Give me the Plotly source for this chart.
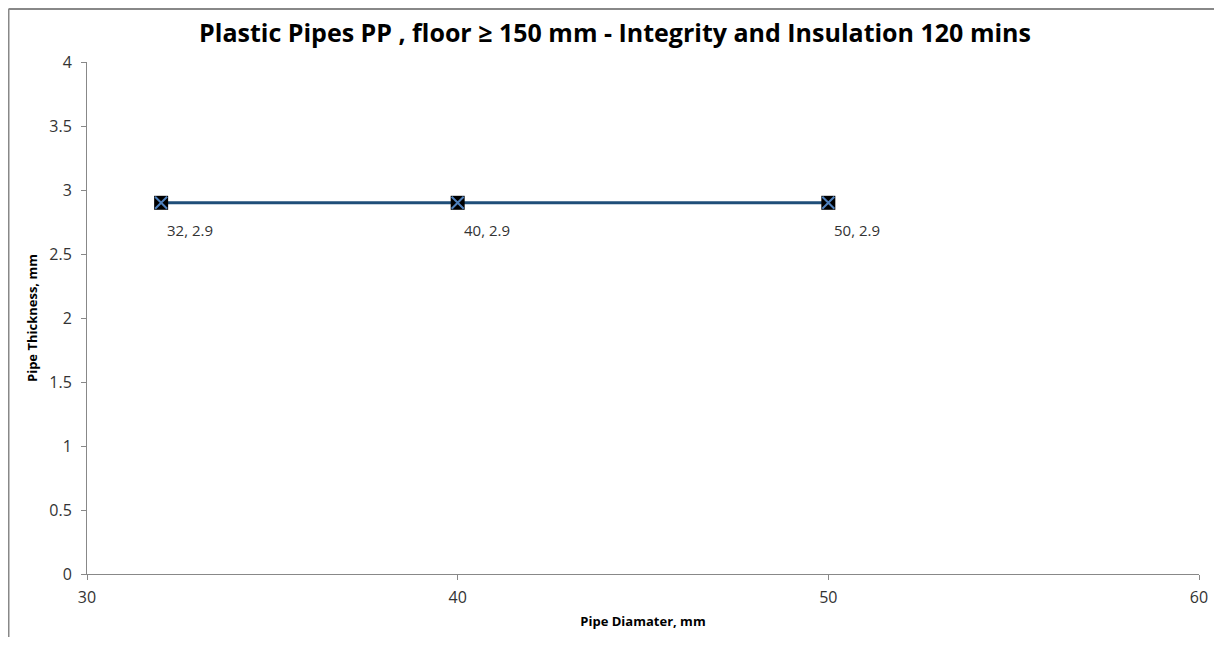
import plotly.graph_objects as go

diameters = [32, 40, 50]
thickness = [2.9, 2.9, 2.9]
labels = [f"{d}, {t}" for d, t in zip(diameters, thickness)]

title = "Plastic Pipes PP , floor \u2265 150 mm - Integrity and Insulation 120 mins"
x_title = "Pipe Diamater, mm"
y_title = "Pipe Thickness, mm"

W, H = 1214, 629
ML, MR, MT, MB = 79, 23, 54, 63
PW, PH = W - ML - MR, H - MT - MB

fig = go.Figure()
fig.add_trace(go.Scatter(
    x=diameters, y=thickness, mode="lines+markers",
    line=dict(color="#1F4E79", width=3),
    marker=dict(symbol="square", size=14, color="black",
                line=dict(color="black", width=0)),
    showlegend=False, hoverinfo="skip"))
fig.add_trace(go.Scatter(
    x=diameters, y=thickness, mode="markers",
    marker=dict(symbol="x-thin-open", size=12, color="#4F81BD",
                line=dict(color="#4F81BD", width=2)),
    showlegend=False, hoverinfo="skip"))

for d, t, lab in zip(diameters, thickness, labels):
    fig.add_annotation(x=d, y=t, text=lab, showarrow=False,
                       xanchor="left", yanchor="middle",
                       xshift=4, yshift=-27,
                       font=dict(family="Open Sans, Liberation Sans, sans-serif", size=15, color="#333"))

bx = -(ML - 0.5) / PW
by = 1 + (MT - 1) / PH
fig.update_layout(
    width=W, height=H,
    margin=dict(l=ML, r=MR, t=MT, b=MB),
    paper_bgcolor="white", plot_bgcolor="white",
    title=dict(text=title, x=0.5, xanchor="center", y=1 - 25 / H, yanchor="middle",
               font=dict(family="Open Sans, Liberation Sans, sans-serif", size=25, color="black", weight="bold")),
    font=dict(family="Open Sans, Liberation Sans, sans-serif", size=13, color="#333"),
    shapes=[
        dict(type="line", xref="paper", yref="paper", x0=bx, x1=bx, y0=-0.3, y1=by,
             line=dict(color="#888", width=2)),
        dict(type="line", xref="paper", yref="paper", x0=bx, x1=1.3, y0=by, y1=by,
             line=dict(color="#888", width=2)),
    ],
)
fig.update_xaxes(range=[30, 60], dtick=10, showgrid=False, zeroline=False,
                 showline=True, linecolor="#888", linewidth=1,
                 ticks="outside", ticklen=5, tickcolor="#888",
                 ticklabelstandoff=4,
                 tickfont=dict(size=16, color="#333"),
                 title=dict(text=x_title, standoff=9,
                            font=dict(size=13, color="black", weight="bold")))
fig.update_yaxes(range=[0, 4], dtick=0.5, showgrid=False, zeroline=False,
                 showline=True, linecolor="#888", linewidth=1,
                 ticks="outside", ticklen=5, tickcolor="#888",
                 ticklabelstandoff=6,
                 tickfont=dict(size=16, color="#333"),
                 title=dict(text=y_title, standoff=8,
                            font=dict(size=13, color="black", weight="bold")))

fig.write_html("out.html")
